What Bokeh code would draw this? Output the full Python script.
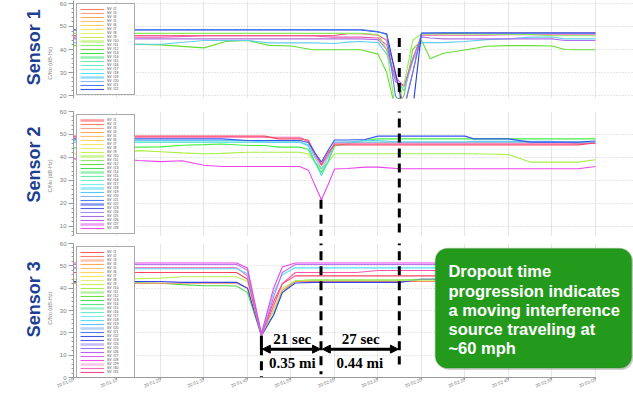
from bokeh.plotting import figure
from bokeh.models import (Range1d, FixedTicker, Legend, LegendItem, Label, Arrow,
                          NormalHead, BoxAnnotation, LinearAxis)
from bokeh.layouts import column
from bokeh.embed import file_html
from bokeh.resources import INLINE

# ---------------- data ----------------
XTICKS = [0, 10, 20, 30, 40, 50, 60, 70, 80, 90, 100, 110, 120]
XTICK_LABELS = ["20:51:05", "20:51:15", "20:51:25", "20:51:35", "20:51:45", "20:51:55",
                "20:52:05", "20:52:15", "20:52:25", "20:52:35", "20:52:45", "20:52:55", "20:53:05"]

SV_COLORS = ["#ff5a5a", "#ff7f6a", "#ffa080", "#ffaa55", "#ffc070", "#ffd45a", "#f5e85a",
             "#e8f070", "#c8f050", "#a8ee50", "#8ee870", "#66e044", "#44dd55", "#55e888",
             "#66eeaa", "#66f0cc", "#77f0e8", "#55e0f5", "#55c8ff", "#88b8f0", "#4f7cf5",
             "#3f55e8", "#5a5ae8", "#a38ef0", "#a070f0", "#c060f0", "#e060f0", "#f050e8",
             "#f8a0d8", "#ff66bb", "#f04c8c"]

# Sensor 1
T1 = [0, 10, 20, 30, 35, 40, 45, 50, 55, 60, 63, 66, 70, 72, 74, 76, 78, 80, 82, 85,
      90, 95, 100, 105, 110, 113, 116, 120]
S1_BLUE = [48.7]*12 + [47.8, 46.5, 20, 14, 30, 47, 47.2, 47.4, 47.4, 47.1, 47.1, 47.1, 47.1, 47.1, 47.1, 47.1]
S1_DKBLUE = [48.5]*12 + [47.6, 46.8, 30, 12, 14, 47.2, 47.2, 47.2, 47.2, 47.2, 47.2, 47.2, 47.2, 47.2, 47.2, 47.2]
S1_GREEN = [47]*12 + [46.5, 40, 14, 25, 44, 46.8, 46.8, 46.8, 46.8, 46.7, 46.6, 46.5, 46, 46, 46, 46]
S1_PINK = [46.1]*10 + [46.9, 46.9, 46.2, 44, 30, 15, 30, 46.8, 46.9, 46.9, 47.1, 47.3, 47.3, 47.3, 47.3, 47.3, 47.3, 47.3]
S1_ROSE = [45.4, 45.4, 45.4, 45.9, 45.9, 45.9, 45.9, 45.9, 45.9, 45.4, 45.4, 45.4, 45, 42, 26, 24, 36,
           46.2, 46.2, 46.2, 46.2, 46.2, 46.4, 46.4, 46.4, 46.4, 46.4, 46.4]
S1_PURPLE = [44.6]*12 + [44.3, 40, 28, 24, 36, 45.5, 45, 44.6, 44.6, 44.6, 44.6, 44.6, 44.6, 43.9, 43.9, 43.9]
S1_CYAN = [43, 42.3, 42.3, 43.9, 43.9, 43.9, 42.9, 42.9, 42.9, 42.6, 43.2, 43.5, 43, 38, 27, 22, 35,
           43, 43, 43, 43.5, 44.3, 44.6, 45.4, 45.4, 44.6, 44.6, 44.6]
S1_LIME = [41.7, 42.5, 42, 40.7, 43.5, 43.9, 41.8, 41.5, 39.9, 39.9, 39.9, 39.9, 38, 30, 14, 20, 40,
           44, 36, 38.4, 39.8, 41.4, 41.7, 41.7, 41.5, 40, 39.9, 39.9]

# Sensor 2
T2 = [0, 10, 15, 20, 25, 30, 34, 40, 44, 47, 52, 54, 55.5, 57, 58.5, 60, 63, 67, 70, 75,
      85, 90, 92, 100, 105, 110, 116, 120]
S2_RED = [49.3]*9 + [48.1, 48.1, 47.5, 42, 37, 42, 45.5] + [45.5]*11 + [46.3]
S2_PINK = [48.8]*11 + [47, 41, 36.5, 41, 46.2] + [46.2]*12
S2_BLUE = [48.1]*7 + [47.4, 47.4, 47.4, 47.4, 46.5, 42, 38, 43, 47.6, 47.6, 47.8, 49.3, 49.3, 49.3,
                      49.3, 48.1, 48.1, 46.7, 46.7, 46.7, 47.2]
S2_GREEN = [44.2, 44.2, 44.5, 44.6, 45.3, 45.6, 45.9, 45.2, 45.2, 44.5, 44.5, 43.5, 38, 33.5, 38, 45,
            46, 47.5] + [48.1]*10
S2_TEAL = [46.7]*11 + [45, 38, 32.2, 38, 46.5] + [46.7]*11 + [46]
S2_LTBLUE = [47.4]*8 + [46.7, 46.7, 46.7, 45.5, 40, 35, 40, 46.7, 46.7, 47.4, 47.4, 46.7, 46.7, 46.7,
                        47, 47, 47, 47, 46, 46.7]
S2_YGREEN = [41.6, 41.6, 43, 42.5, 42, 41.6, 41.8, 42.3, 42.3, 42.3, 42.3, 41.5, 38, 35, 38,
             41.6, 41.6, 41.6, 41.6, 41.6, 41.6, 41.6, 41.6, 41.3, 38, 38, 38, 39]
S2_MAGENTA = [39.4, 39.4, 38.7, 38.2, 38.6, 36.6, 36.1, 36.1, 36.1, 36.1, 36.1, 34.5, 28, 21.6, 28,
              35, 35.2, 35.8, 35.8] + [35.1]*8 + [36.1]

# Sensor 3
T3 = [0, 10, 20, 25, 30, 35, 37.5, 40, 43.2, 46, 48, 51, 55, 60, 65, 70, 75, 80, 90, 100, 110, 120]
S3_MAGENTA = [51.3]*7 + [49, 19.5, 40, 49.5, 51.3] + [51.3]*10
S3_VIOLET = [50.6]*7 + [48, 18.7, 36, 47, 50.6] + [50.6]*10
S3_CYAN = [48.7]*7 + [46.5, 20, 38, 46, 49.1] + [49.1]*10
S3_PINK = [49.1]*7 + [45.5, 18.7, 32, 42, 47, 47, 47, 47, 47.9] + [47.9]*6
S3_RED = [47]*7 + [44, 19, 34, 42, 45.5] + [45.5]*10
S3_YGREEN = [44, 44, 44.5, 45.1, 45.1, 45.1, 45.1, 43, 19, 30, 40, 43.3] + [43.6]*10
S3_BLUE = [43, 43, 43, 42.6, 42.6, 42.6, 42.6, 40, 18.7, 28, 38, 42.3, 42.6, 42.6, 42.6, 42.6, 42.6,
           44, 44, 44, 44, 44]
S3_SALMON = [42.2]*7 + [40, 19, 30, 39, 43] + [43]*10
S3_GREEN = [42.6, 42.6, 42.2, 41.6, 41.1, 41.1, 41, 38, 18.7, 28, 38, 43.3, 43.6, 43.6, 43.6, 43.6,
            43.6, 44, 44, 44, 44, 44]
S3_ZERO = [0]*22

# dropout instants (s) and annotation values
DIP_S1, DIP_S2, DIP_S3 = 74.9, 56.9, 43.2
GAP_LABELS = ["21 sec", "27 sec"]
DIST_LABELS = ["0.35 mi", "0.44 mi"]
NOTE_LINES = ["Dropout time", "progression indicates", "a moving interference",
              "source traveling at", "~60 mph"]
SENSORS = ["Sensor 1", "Sensor 2", "Sensor 3"]
YLABEL = "C/No (dB-Hz)"

# ---------------- layout ----------------
W = 633
XR = Range1d(0, 128.74)   # data ends at 120; extra room on the right for the note box
GRAY = "#9a9a9a"
NAN = float("nan")


def text_axis(y, text, size, color, bold, standoff):
    return LinearAxis(ticker=FixedTicker(ticks=[y]), major_label_overrides={y: text},
                      major_label_orientation="vertical",
                      major_label_text_font="Liberation Sans",
                      major_label_text_font_style="bold" if bold else "normal",
                      major_label_text_font_size=size, major_label_text_color=color,
                      major_label_standoff=standoff, axis_line_color=None,
                      major_tick_line_color=None, minor_tick_line_color=None)


def panel(height, y0, y1, yticks, top, bottom, show_x, sensor, sensor_y, ylab_y):
    p = figure(width=W, height=height, x_range=XR, y_range=Range1d(y0, y1),
               output_backend="svg", toolbar_location=None,
               min_border_left=73, min_border_right=0,
               min_border_top=top, min_border_bottom=bottom)
    p.outline_line_color = None
    minor = [v for v in range(0, 62, 2)]
    ya = p.yaxis[0]
    ya.ticker = FixedTicker(ticks=yticks, minor_ticks=minor)
    ya.major_label_text_font = "Liberation Sans"
    ya.major_label_text_font_size = "6px"
    ya.major_label_text_color = "#7a7a7a"
    ya.major_label_standoff = 2
    ya.axis_line_color = GRAY
    ya.major_tick_line_color = GRAY
    ya.minor_tick_line_color = GRAY
    ya.major_tick_out = 5
    ya.major_tick_in = 0
    ya.minor_tick_out = 2
    ya.minor_tick_in = 0
    p.add_layout(text_axis(ylab_y, YLABEL, "5.5px", "#8a8a8a", False, -3), "left")
    p.add_layout(text_axis(sensor_y, sensor, "18px", "#1c3f94", True, -6), "left")
    xa = p.xaxis[0]
    if show_x:
        xa.ticker = FixedTicker(ticks=XTICKS)
        xa.major_label_overrides = {t: s for t, s in zip(XTICKS, XTICK_LABELS)}
        xa.major_label_orientation = 0.38
        xa.major_label_text_font = "Liberation Sans"
        xa.major_label_text_font_size = "4.5px"
        xa.major_label_text_color = "#7a7a7a"
        xa.major_label_standoff = 0
        xa.axis_line_color = GRAY
        xa.major_tick_line_color = GRAY
        xa.major_tick_out = 2
        xa.major_tick_in = 0
        xa.minor_tick_line_color = None
        xa.bounds = (0, 120)
    else:
        xa.visible = False
    p.xgrid.ticker = FixedTicker(ticks=XTICKS)
    p.xgrid.grid_line_color = "#e6e6e6"
    p.ygrid.ticker = FixedTicker(ticks=yticks)
    p.ygrid.grid_line_color = "#cfcfcf"
    p.ygrid.grid_line_dash = "1 2"
    p.ygrid.bounds = (0, 120)
    return p


def add_legend(p, ids, thick):
    items = []
    for k in ids:
        wide = k in thick
        r = p.line(x=[NAN], y=[NAN], line_color=SV_COLORS[k - 1],
                   line_width=2.6 if wide else 1.1, line_alpha=0.6 if wide else 1.0)
        items.append(LegendItem(label="SV #%d" % k, renderers=[r]))
    leg = Legend(items=items, location="top_left", margin=3, padding=3, spacing=0,
                 label_text_font="Liberation Sans", label_text_font_size="3.5px",
                 label_text_color="#444444", label_height=4, glyph_height=4,
                 glyph_width=24, label_width=24, label_standoff=3,
                 border_line_color="#555555", border_line_width=1.2,
                 background_fill_color="white", background_fill_alpha=1)
    p.add_layout(leg)


def draw(p, t, series):
    for vals, col in series:
        p.line(t, vals, line_color=col, line_width=1.1)


def vdash(p, t, y_top, y_bot):
    p.segment(x0=[t], y0=[y_top], x1=[t], y1=[y_bot], line_color="black",
              line_width=3, line_dash="9 6")


def separator(left):
    s = figure(width=W - left, height=3, output_backend="svg", toolbar_location=None,
               min_border=0, x_range=(0, 1), y_range=(0, 1))
    s.axis.visible = False
    s.grid.visible = False
    s.outline_line_color = None
    s.background_fill_color = "black"
    s.border_fill_color = "black"
    s.margin = (0, 0, 0, left)
    return s


# Panel 1
p1 = panel(101, 18.7, 61.3, [20, 30, 40, 50, 60], 0, 3, False, SENSORS[0], 41, 34)
draw(p1, T1, [(S1_LIME, "#66dd33"), (S1_CYAN, "#66ccee"), (S1_PURPLE, "#b070ee"),
              (S1_ROSE, "#f060b0"), (S1_PINK, "#ff5c8a"), (S1_GREEN, "#88ee55"),
              (S1_DKBLUE, "#2040d8"), (S1_BLUE, "#4f7cf5")])
vdash(p1, DIP_S1, 45, 10)
add_legend(p1, list(range(2, 23)), {10, 14, 19})

# Panel 2
p2 = panel(132, 5.65, 60, [10, 20, 30, 40, 50, 60], 7, 0, False, SENSORS[1], 37, 32)
draw(p2, T2, [(S2_MAGENTA, "#ee44ee"), (S2_YGREEN, "#aaee44"), (S2_GREEN, "#44ee44"),
              (S2_TEAL, "#44ddcc"), (S2_LTBLUE, "#66ccff"), (S2_PINK, "#ff66aa"),
              (S2_RED, "#ff4466"), (S2_BLUE, "#3355ee")])
vdash(p2, DIP_S1, 70, 0)
vdash(p2, DIP_S2, 21.6, 0)
add_legend(p2, list(range(1, 29)), {1, 10, 14, 18, 22, 27})

# Panel 3
p3 = panel(154, 0, 60, [0, 10, 20, 30, 40, 50, 60], 4, 11, True, SENSORS[2], 35, 31)
draw(p3, T3, [(S3_ZERO, "#ff66cc"), (S3_GREEN, "#44dd44"), (S3_SALMON, "#ff8866"),
              (S3_BLUE, "#3344ee"), (S3_YGREEN, "#bbee55"), (S3_RED, "#ff4466"),
              (S3_PINK, "#ff55aa"), (S3_CYAN, "#55ddff"), (S3_VIOLET, "#bb77ee"),
              (S3_MAGENTA, "#ee44ee")])
vdash(p3, DIP_S2, 70, 1.4)
vdash(p3, DIP_S1, 70, 5.8)
vdash(p3, DIP_S3, 14, -1)
p3.segment(x0=[DIP_S3], y0=[18.7], x1=[DIP_S3], y1=[13.5], line_color="black", line_width=3)
add_legend(p3, list(range(1, 32)), {3, 11, 15, 20, 24, 29})

arrow_y = 12.7
for xs, xe in [(DIP_S3 + 0.2, DIP_S2 - 0.1), (DIP_S2 + 0.3, DIP_S1 - 0.2)]:
    p3.add_layout(Arrow(x_start=xs, y_start=arrow_y, x_end=xe, y_end=arrow_y,
                        line_color="black", line_width=3,
                        start=NormalHead(size=8, fill_color="black", line_color="black"),
                        end=NormalHead(size=8, fill_color="black", line_color="black")))
for txt, x in zip(GAP_LABELS, [50.3, 66.0]):
    p3.add_layout(Label(x=x, y=17.2, text=txt, text_align="center", text_baseline="middle",
                        text_font="Liberation Serif", text_font_style="bold",
                        text_font_size="15px", text_color="black"))
for txt, x in zip(DIST_LABELS, [50.3, 65.8]):
    p3.add_layout(Label(x=x, y=6.3, text=txt, text_align="center", text_baseline="middle",
                        text_font="Liberation Serif", text_font_style="bold",
                        text_font_size="15px", text_color="black"))

# green note box
p3.add_layout(BoxAnnotation(left=83.8, right=128.7, top=57.2, bottom=3.4,
                            fill_color="#777777", fill_alpha=0.35, line_color=None,
                            border_radius=12))
p3.add_layout(BoxAnnotation(left=83.2, right=128.3, top=57.8, bottom=4.2,
                            fill_color="#249a1d", fill_alpha=1, line_color="#1b7d15",
                            line_width=1.5, border_radius=12))
for txt, y in zip(NOTE_LINES, [47.5, 38.6, 30.3, 21.7, 13.0]):
    p3.add_layout(Label(x=86.2, y=y, text=txt, text_align="left", text_baseline="middle",
                        text_font="Liberation Sans", text_font_style="bold",
                        text_font_size="16.5px", text_color="white"))

layout = column(p1, separator(13), p2, separator(8), p3)
open("out.html", "w").write(file_html(layout, INLINE))
